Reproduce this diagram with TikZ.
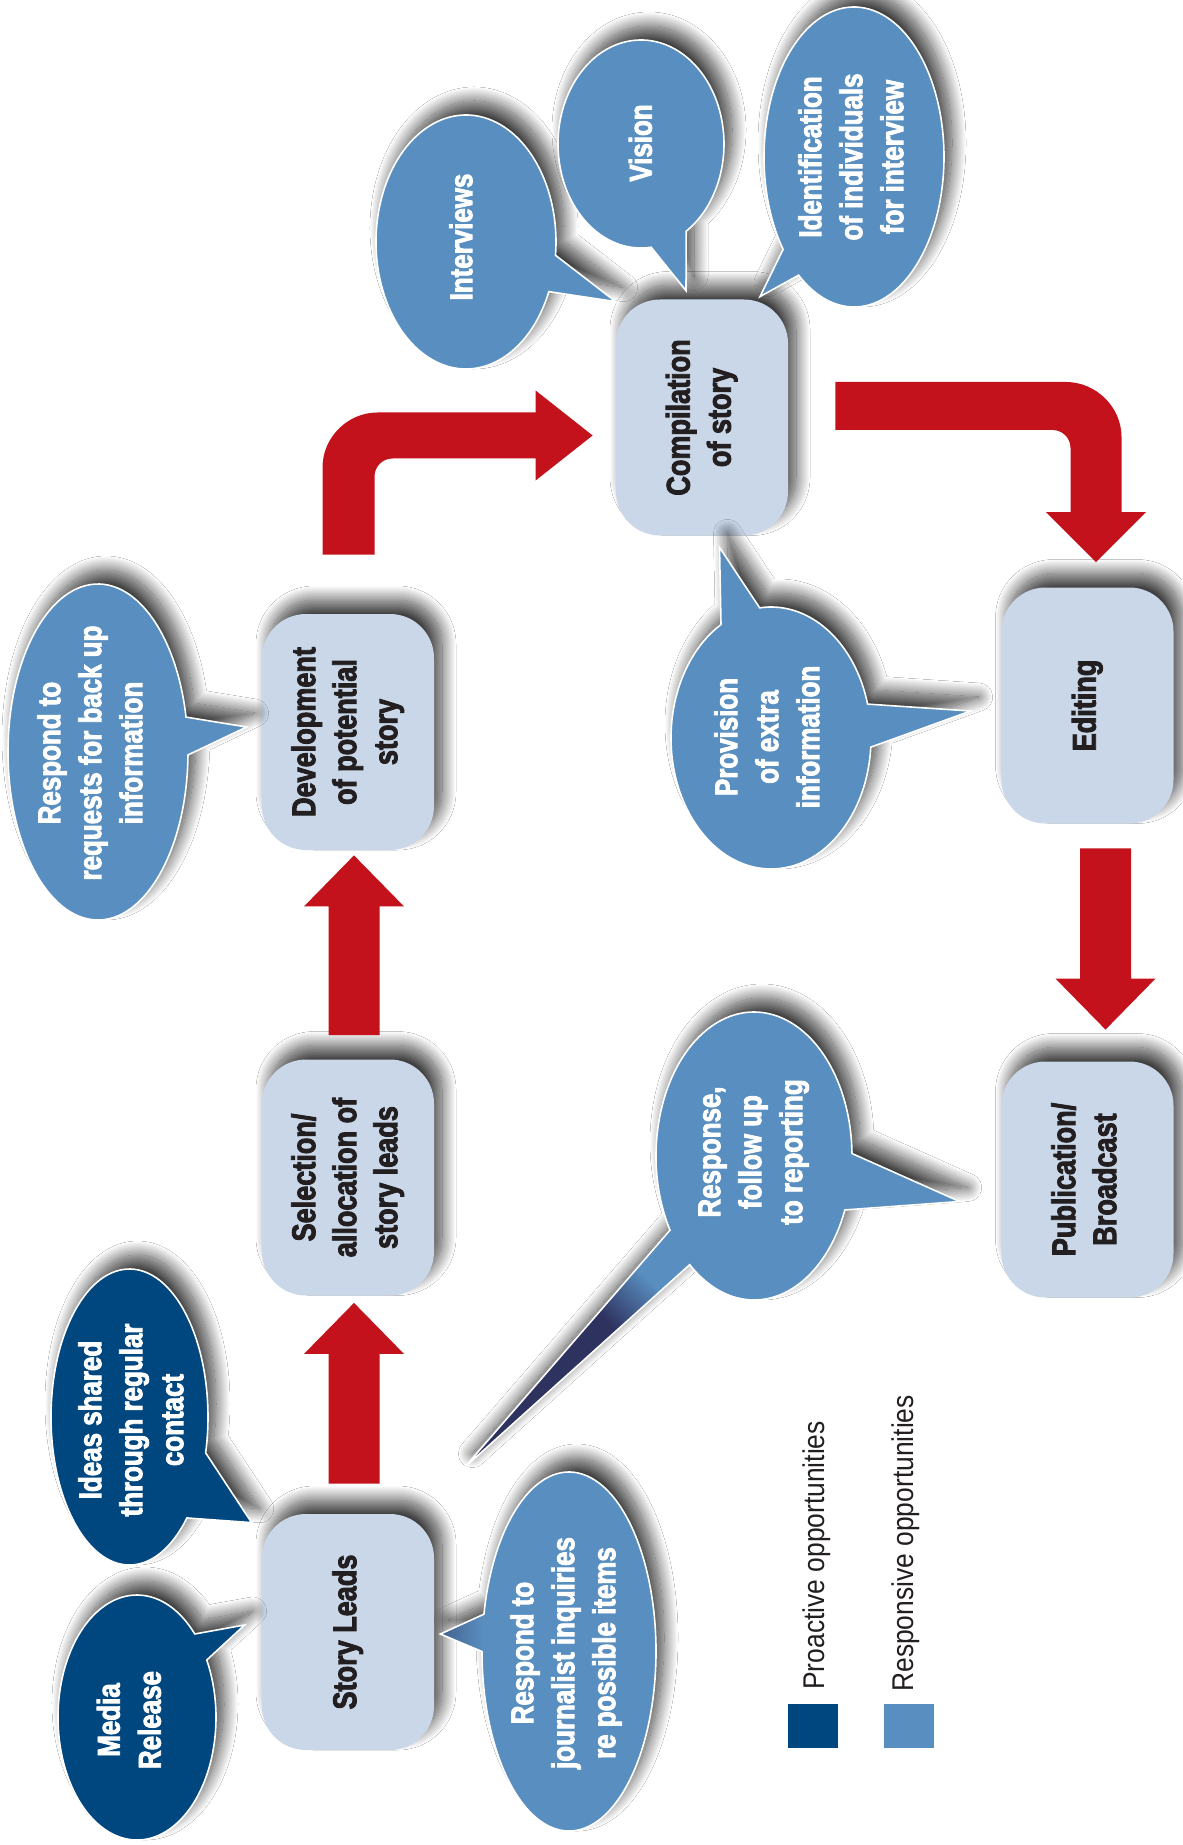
\documentclass[tikz,border=0pt]{standalone}
\usepackage{fontspec}
\usepackage{graphicx}
\usetikzlibrary{calc,shadows.blur}
\newfontfamily\cfont[FakeStretch=0.82, BoldFeatures={FakeBold=2.6}]{Liberation Sans}
\newfontfamily\lfont[FakeStretch=0.88]{Liberation Sans}
\definecolor{medblue}{HTML}{598FC0}
\definecolor{darkblue}{HTML}{00467F}
\definecolor{boxfill}{HTML}{C9D7E8}
\definecolor{arrowred}{HTML}{C4121C}
\definecolor{navyc}{HTML}{2E325F}
\definecolor{inkc}{HTML}{231F20}
\pgfdeclarehorizontalshading{tailshade}{100bp}{color(0bp)=(navyc); color(58bp)=(navyc); color(70bp)=(medblue); color(100bp)=(medblue)}
\newcommand\vtxt[1]{\rotatebox{90}{\begin{tabular}{@{}c@{}}#1\end{tabular}}}
\newcommand\uparr[2]{\fill[arr] ($(#1)+(-25.5,0)$) -- ($(#2)+(-25.5,51)$) -- ($(#2)+(-50,51)$) -- (#2) -- ($(#2)+(50,51)$) -- ($(#2)+(25.5,51)$) -- ($(#1)+(25.5,0)$) -- cycle;}
\newcommand\downarr[2]{\fill[arr] ($(#1)+(-25.5,0)$) -- ($(#2)+(-25.5,-51)$) -- ($(#2)+(-50,-51)$) -- (#2) -- ($(#2)+(50,-51)$) -- ($(#2)+(25.5,-51)$) -- ($(#1)+(25.5,0)$) -- cycle;}
\tikzset{
  shad/.style={blur shadow={shadow xshift=4pt, shadow yshift=7pt, shadow blur radius=7pt, shadow blur steps=24, shadow opacity=75}},
  procbox/.style={shape=rectangle, rounded corners=22pt, fill=boxfill, shad, minimum width=86pt, minimum height=118pt, inner sep=0pt, text=inkc, font=\cfont\bfseries\fontsize{16.5}{20.5}\selectfont},
  bubtext/.style={inner sep=0pt, text=white, font=\cfont\bfseries\fontsize{15.8}{20.5}\selectfont},
  medbub/.style={fill=medblue, draw=white, line width=0.8pt, shad},
  darkbub/.style={fill=darkblue, draw=white, line width=0.8pt, shad},
  bubline/.style={draw=white, line width=0.8pt},
  legtext/.style={inner sep=0pt, text=inkc, font=\lfont\fontsize{15}{18}\selectfont},
  legkey/.style={minimum width=25pt, minimum height=22.25pt, inner sep=0pt},
  arr/.style={fill=arrowred}
}
\begin{document}
\begin{tikzpicture}[x=0.5pt,y=-0.5pt]
\useasboundingbox (0,0) rectangle (1182,1845);
\fill[white] (0,0) rectangle (1182,1845);

% process boxes
\node[procbox] (sl) at (348,1632) {\vtxt{Story Leads}};
\node[procbox] (sel) at (348,1177.5) {\vtxt{Selection/\\allocation of\\story leads}};
\node[procbox] (dev) at (348,732) {\vtxt{Development\\of potential\\story}};
\node[procbox] (comp) at (702,417.5) {\vtxt{Compilation\\of story}};
\node[procbox] (edit) at (1087.5,705.5) {\vtxt{Editing}};
\node[procbox] (pub) at (1087.5,1179.5) {\vtxt{Publication/\\Broadcast}};

% straight arrows
\coordinate (a1s) at ($(sl.north)+(6,-30)$);
\coordinate (a1t) at ($(sel.south)+(6,7)$);
\uparr{a1s}{a1t}
\coordinate (a2s) at ($(sel.north)+(6,-24)$);
\coordinate (a2t) at ($(dev.south)+(6,5)$);
\uparr{a2s}{a2t}
\coordinate (a5s) at ($(edit.south)+(18,24.5)$);
\coordinate (a5t) at ($(pub.north)+(18,-31.5)$);
\downarr{a5s}{a5t}

% bent arrow development -> compilation
\coordinate (a3s) at ($(dev.north)+(0.5,-59)$);
\coordinate (a3t) at ($(comp.west)+(-23,18)$);
\coordinate (a3c) at (a3s |- a3t);
\fill[arr] ($(a3s)+(-26,0)$)
  -- ($(a3c)+(-26,32)$)
  .. controls ($(a3c)+(-26,2)$) and ($(a3c)+(-1,-23)$) .. ($(a3c)+(29,-23)$)
  -- ($(a3t)+(-57,-23)$) -- ($(a3t)+(-57,-45)$) -- (a3t) -- ($(a3t)+(-57,45)$) -- ($(a3t)+(-57,23)$)
  -- ($(a3c)+(44,23)$)
  .. controls ($(a3c)+(34,23)$) and ($(a3c)+(26,31)$) .. ($(a3c)+(26,41)$)
  -- ($(a3s)+(26,0)$) -- cycle;

% bent arrow compilation -> editing
\coordinate (a4s) at ($(comp.east)+(47,-11.5)$);
\coordinate (a4t) at ($(edit.north)+(8.5,-25)$);
\coordinate (a4c) at (a4t |- a4s);
\fill[arr] ($(a4s)+(0,-24)$)
  -- ($(a4c)+(-30,-24)$)
  .. controls ($(a4c)+(0,-24)$) and ($(a4c)+(25.5,1)$) .. ($(a4c)+(25.5,31)$)
  -- ($(a4t)+(25.5,-50)$) -- ($(a4t)+(50,-50)$) -- (a4t) -- ($(a4t)+(-50,-50)$) -- ($(a4t)+(-25.5,-50)$)
  -- ($(a4c)+(-25.5,42)$)
  .. controls ($(a4c)+(-25.5,32)$) and ($(a4c)+(-33.5,24)$) .. ($(a4c)+(-43.5,24)$)
  -- ($(a4s)+(0,24)$) -- cycle;

% Interviews
\coordinate (ivc) at (466,242);
\coordinate (ivt) at ($(comp.north west)+(0,2.5)$);
\path[medbub] ($(ivc)+(23:90 and 127)$) arc[start angle=23, end angle=366, x radius=90, y radius=127] -- (ivt) -- cycle;
\node[bubtext] (iv) at ($(ivc)+(-2,-5)$) {\vtxt{Interviews}};

% Vision
\coordinate (vic) at (641,144);
\coordinate (vit) at ($(comp.north)+(-16,-8.5)$);
\path[medbub] ($(vic)+(83:83 and 104)$) arc[start angle=83, end angle=417, x radius=83, y radius=104] -- (vit) -- cycle;
\node[bubtext] (vi) at ($(vic)+(2.5,-1)$) {\vtxt{Vision}};

% Identification
\coordinate (idc) at (854,157);
\coordinate (idt) at ($(comp.north)+(58,-2.5)$);
\path[medbub] ($(idc)+(142:90 and 150)$) arc[start angle=142, end angle=488, x radius=90, y radius=150] -- (idt) -- cycle;
\node[bubtext] (idn) at (idc) {\vtxt{Identification\\of individuals\\for interview}};

% Respond to requests
\coordinate (rqc) at (98,752);
\coordinate (rqt) at ($(dev.west)+(-15,-5)$);
\path[medbub] ($(rqc)+(1:90 and 168)$) arc[start angle=1, end angle=348, x radius=90, y radius=168] -- (rqt) -- cycle;
\node[bubtext] (rq) at ($(rqc)+(-5,1)$) {\vtxt{Respond to\\requests for back up\\information}};

% Ideas shared
\coordinate (isc) at (129.5,1417);
\coordinate (ist) at ($(sl.north west)+(-10,9)$);
\path[darkbub] ($(isc)+(43:78.5 and 148)$) arc[start angle=43, end angle=374, x radius=78.5, y radius=148] -- (ist) -- cycle;
\node[bubtext] (is) at ($(isc)+(4.5,3)$) {\vtxt{Ideas shared\\through regular\\contact}};

% Media release
\coordinate (mrc) at (137,1717.5);
\coordinate (mrt) at ($(sl.west)+(-17,-7)$);
\path[darkbub] ($(mrc)+(-28:79 and 122.5)$) arc[start angle=-28, end angle=317, x radius=79, y radius=122.5] -- (mrt) -- cycle;
\node[bubtext] (mr) at ($(mrc)+(-5,2.5)$) {\vtxt{Media\\Release}};

% Respond to journalist inquiries
\coordinate (jqc) at (569,1651.5);
\coordinate (jqt) at ($(sl.east)+(6,2)$);
\def\jqpath{($(jqc)+(192:87 and 179.5)$) arc[start angle=192, end angle=540, x radius=87, y radius=179.5] -- (jqt) -- cycle}
\path[fill=medblue, shad] \jqpath;
\begin{scope}
  \clip \jqpath;
  \shade[left color=medblue!45!navyc, right color=medblue] (436,1600) rectangle (484,1670);
\end{scope}
\path[bubline] \jqpath;
\node[bubtext] (jq) at ($(jqc)+(-3,1.5)$) {\vtxt{Respond to\\journalist inquiries\\re possible items}};

% Provision of extra information
\coordinate (pvc) at (771,738);
\coordinate (pva) at ($(comp.south)+(17.5,11.5)$);
\coordinate (pvb) at ($(edit.west)+(-30.5,5.5)$);
\path[medbub] ($(pvc)+(4:100 and 131)$) arc[start angle=4, end angle=240, x radius=100, y radius=131] -- (pva) -- ($(pvc)+(263.5:100 and 131)$) arc[start angle=263.5, end angle=345, x radius=100, y radius=131] -- (pvb) -- cycle;
\node[bubtext] (pv) at ($(pvc)+(-1,-1)$) {\vtxt{Provision\\of extra\\information}};

% Response, follow up to reporting
\coordinate (rsc) at (754,1156);
\coordinate (rst) at ($(pub.west)+(-41.5,22)$);
\coordinate (rlt) at ($(sl.north east)+(30,-46)$);
\def\resppath{($(rsc)+(22:98 and 144)$) arc[start angle=22, end angle=131, x radius=98, y radius=144] -- (rlt) -- ($(rsc)+(149:98 and 144)$) arc[start angle=149, end angle=359, x radius=98, y radius=144] -- (rst) -- cycle}
\path[fill=medblue, shad] \resppath;
\begin{scope}
  \clip \resppath;
  \shade[shading=tailshade, shading angle=45] (455,1220) rectangle (700,1478);
\end{scope}
\path[bubline] \resppath;
\node[bubtext] (rs) at ($(rsc)+(-1,-4)$) {\vtxt{Response,\\follow up\\to reporting}};

% legend
\node[legkey, fill=darkblue] (lpk) at (813,1726) {};
\node[legkey, fill=medblue] (lrk) at (909,1726) {};
\node[legtext, rotate=90, anchor=west] (lpt) at (817,1690) {Proactive opportunities};
\node[legtext, rotate=90, anchor=west] (lrt) at (906,1692) {Responsive opportunities};
\end{tikzpicture}
\end{document}
